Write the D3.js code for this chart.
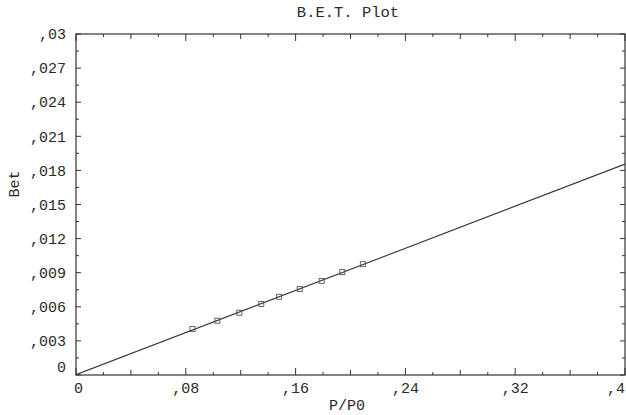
<!DOCTYPE html>
<html>
<head>
<meta charset="utf-8">
<script src="https://cdn.jsdelivr.net/npm/d3@7"></script>
<style>
  html, body { margin: 0; padding: 0; background: #fff; }
  svg { display: block; }
  text { font-family: "Liberation Mono", "Courier New", monospace; fill: #2a2a2a; }
</style>
</head>
<body>
<svg id="chart" width="626" height="415"></svg>
<script>
// Relative pressure P/P0 of each measured point
const pp0 = [0.0849, 0.1030, 0.1190, 0.1350, 0.1480, 0.1630, 0.1790, 0.1940, 0.2090];
// BET transform 1/[W((P0/P)-1)] for each point
const bet = [0.00405, 0.00478, 0.00548, 0.00625, 0.00688, 0.00757, 0.00828, 0.00905, 0.00975];

const xTicks = [0, 0.08, 0.16, 0.24, 0.32, 0.4];
const xTickLabels = ["0", ",08", ",16", ",24", ",32", ",4"];
const yTicks = [0, 0.003, 0.006, 0.009, 0.012, 0.015, 0.018, 0.021, 0.024, 0.027, 0.03];
const yTickLabels = ["0", ",003", ",006", ",009", ",012", ",015", ",018", ",021", ",024", ",027", ",03"];

const title = "B.E.T. Plot";
const xTitle = "P/P0";
const yTitle = "Bet";

const svg = d3.select("#chart");
const m = { left: 76, right: 625, top: 34, bottom: 375 };

const x = d3.scaleLinear().domain([0, 0.4]).range([m.left, m.right]);
const y = d3.scaleLinear().domain([0, 0.03]).range([m.bottom, m.top]);

const ink = "#333";

// Least-squares fit through the measured points
const mx = d3.mean(pp0), my = d3.mean(bet);
const slope = d3.sum(pp0.map((v, i) => (v - mx) * (bet[i] - my))) / d3.sum(pp0.map(v => (v - mx) ** 2));
const intercept = my - slope * mx;

// Frame
svg.append("rect")
  .attr("x", m.left).attr("y", m.top)
  .attr("width", m.right - m.left).attr("height", m.bottom - m.top)
  .attr("fill", "none").attr("stroke", ink).attr("stroke-width", 1.2);

// Tick marks on all four sides
const xMinor = d3.range(0, 0.4001, 0.02);
const xLen = v => {
  const k = Math.round(v / 0.02);
  return k % 4 === 0 ? 7 : (k % 2 === 0 ? 5 : 3);
};
const yMinor = d3.range(0, 0.03001, 0.0015);
const yLen = v => (Math.round(v / 0.0015) % 2 === 0 ? 5 : 3);

const ticks = svg.append("g").attr("stroke", ink).attr("stroke-width", 1);
xMinor.forEach(v => {
  const L = xLen(v);
  ticks.append("line").attr("x1", x(v)).attr("x2", x(v)).attr("y1", m.bottom).attr("y2", m.bottom - L);
  ticks.append("line").attr("x1", x(v)).attr("x2", x(v)).attr("y1", m.top).attr("y2", m.top + L);
});
yMinor.forEach(v => {
  const L = yLen(v);
  ticks.append("line").attr("x1", m.left).attr("x2", m.left + L).attr("y1", y(v)).attr("y2", y(v));
  ticks.append("line").attr("x1", m.right).attr("x2", m.right - L).attr("y1", y(v)).attr("y2", y(v));
});

// Tick labels
const xl = svg.append("g").attr("font-size", 15);
xTicks.forEach((v, i) => {
  const anchor = i === 0 ? "start" : (i === xTicks.length - 1 ? "end" : "middle");
  const dx = i === 0 ? -2 : (i === xTicks.length - 1 ? 0 : 0);
  xl.append("text")
    .attr("x", x(v) + dx).attr("y", m.bottom + 18)
    .attr("text-anchor", anchor)
    .text(xTickLabels[i]);
});
const yl = svg.append("g").attr("font-size", 15);
yTicks.forEach((v, i) => {
  const dy = v === 0 ? -8 : 0;
  yl.append("text")
    .attr("x", m.left - 10).attr("y", y(v) + dy)
    .attr("dy", "0.35em")
    .attr("text-anchor", "end")
    .text(yTickLabels[i]);
});

// Titles
svg.append("text").attr("x", 348).attr("y", 17).attr("text-anchor", "middle")
  .attr("font-size", 15.5).text(title);
svg.append("text").attr("x", 347).attr("y", 410).attr("text-anchor", "middle")
  .attr("font-size", 15).text(xTitle);
svg.append("text").attr("transform", "translate(19,184) rotate(-90)")
  .attr("text-anchor", "middle").attr("font-size", 15).text(yTitle);

// Fitted line
svg.append("clipPath").attr("id", "plotclip").append("rect")
  .attr("x", m.left).attr("y", m.top).attr("width", m.right - m.left).attr("height", m.bottom - m.top);
svg.append("line")
  .attr("clip-path", "url(#plotclip)")
  .attr("x1", x(0)).attr("y1", y(intercept))
  .attr("x2", x(0.4)).attr("y2", y(intercept + slope * 0.4))
  .attr("stroke", ink).attr("stroke-width", 1.1);

// Measured points
svg.append("g").selectAll("rect").data(pp0).join("rect")
  .attr("x", (d) => x(d) - 2.5)
  .attr("y", (d, i) => y(bet[i]) - 2.5)
  .attr("width", 5).attr("height", 5)
  .attr("fill", "none").attr("stroke", "#555").attr("stroke-width", 0.9);
</script>
</body>
</html>
